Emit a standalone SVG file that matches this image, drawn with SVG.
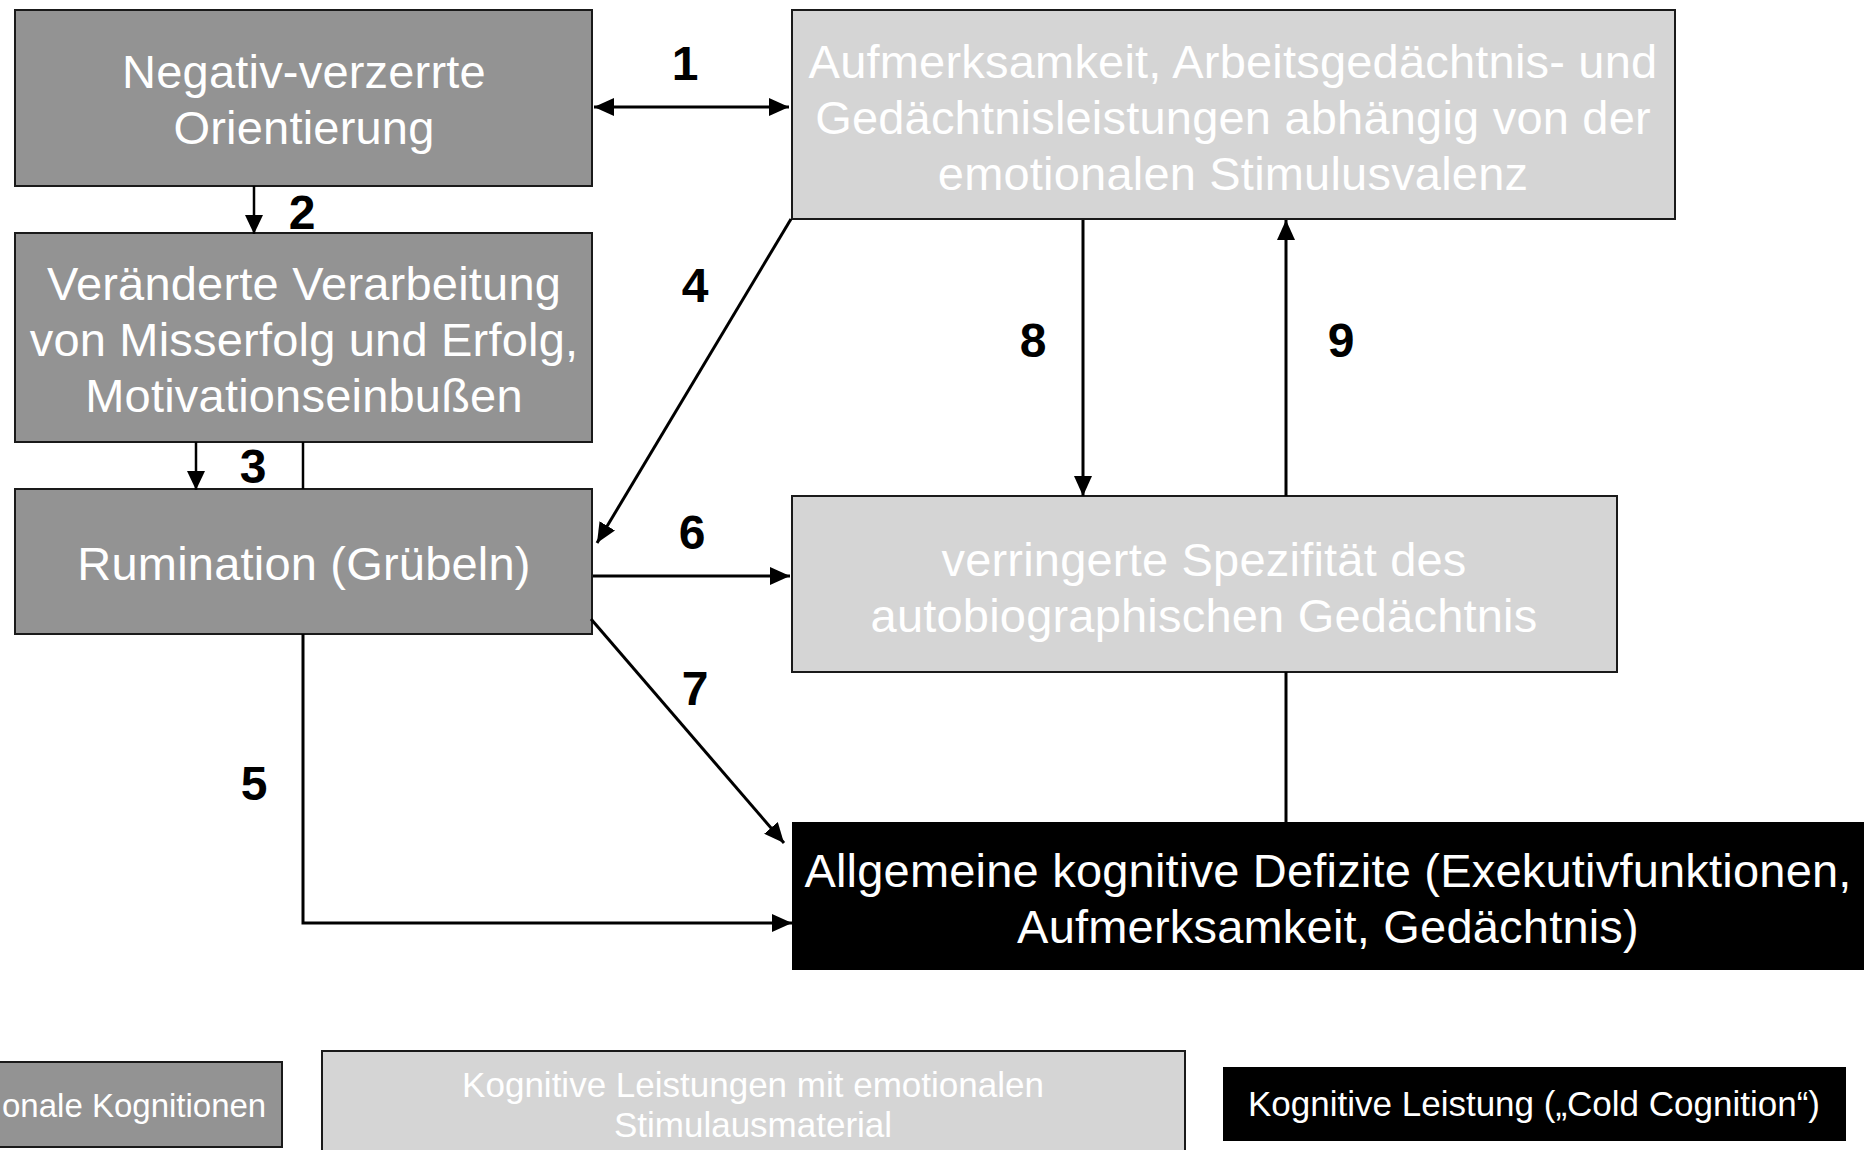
<svg xmlns="http://www.w3.org/2000/svg" width="1868" height="1150" viewBox="0 0 1868 1150">
  <style>
    .dark { fill: #939393; stroke: #1a1a1a; stroke-width: 2; }
    .light { fill: #d5d5d5; stroke: #1a1a1a; stroke-width: 2; }
    .black { fill: #000000; }
    .t { font-family: "Liberation Sans", Arial, sans-serif; font-size: 47px; letter-spacing: 0.2px; fill: #ffffff; text-anchor: middle; }
    .lt { font-family: "Liberation Sans", Arial, sans-serif; font-size: 35px; fill: #ffffff; text-anchor: middle; }
    .num { font-family: "Liberation Sans", Arial, sans-serif; font-size: 48px; font-weight: bold; fill: #000000; text-anchor: middle; }
    .c { fill: none; stroke: #000000; stroke-width: 3; }
    .cs { fill: none; stroke: #000000; stroke-width: 2.5; }
  </style>
  <defs>
    <marker id="ah" markerUnits="userSpaceOnUse" markerWidth="20" markerHeight="18" refX="20" refY="9" orient="auto-start-reverse">
      <path d="M0,0 L20,9 L0,18 z" fill="#000000"/>
    </marker>
    <marker id="ahs" markerUnits="userSpaceOnUse" markerWidth="19" markerHeight="18" refX="19" refY="9" orient="auto">
      <path d="M0,0 L19,9 L0,18 z" fill="#000000"/>
    </marker>
  </defs>
  <rect x="0" y="0" width="1868" height="1150" fill="#ffffff"/>

  <g id="node-negativ">
    <rect class="dark" x="15" y="10" width="577" height="176"/>
    <text class="t" x="304" y="88">Negativ-verzerrte</text>
    <text class="t" x="304" y="144">Orientierung</text>
  </g>
  <g id="node-verarbeitung">
    <rect class="dark" x="15" y="233" width="577" height="209"/>
    <text class="t" x="304" y="300">Veränderte Verarbeitung</text>
    <text class="t" x="304" y="356">von Misserfolg und Erfolg,</text>
    <text class="t" x="304" y="412">Motivationseinbußen</text>
  </g>
  <g id="node-rumination">
    <rect class="dark" x="15" y="489" width="577" height="145"/>
    <text class="t" x="304" y="580">Rumination (Grübeln)</text>
  </g>
  <g id="node-aufmerksamkeit">
    <rect class="light" x="792" y="10" width="883" height="209"/>
    <text class="t" x="1233" y="78">Aufmerksamkeit, Arbeitsgedächtnis- und</text>
    <text class="t" x="1233" y="134">Gedächtnisleistungen abhängig von der</text>
    <text class="t" x="1233" y="190">emotionalen Stimulusvalenz</text>
  </g>
  <g id="node-spezifitaet">
    <rect class="light" x="792" y="496" width="825" height="176"/>
    <text class="t" x="1204" y="576">verringerte Spezifität des</text>
    <text class="t" x="1204" y="632">autobiographischen Gedächtnis</text>
  </g>
  <g id="node-defizite">
    <rect class="black" x="792" y="822" width="1072" height="148"/>
    <text class="t" x="1328" y="887">Allgemeine kognitive Defizite (Exekutivfunktionen,</text>
    <text class="t" x="1328" y="943">Aufmerksamkeit, Gedächtnis)</text>
  </g>

  <g id="connectors">
    <line class="c" x1="594" y1="107" x2="789" y2="107" marker-start="url(#ah)" marker-end="url(#ah)"/>
    <line class="cs" x1="254" y1="186" x2="254" y2="234" marker-end="url(#ahs)"/>
    <line class="cs" x1="196" y1="442" x2="196" y2="490" marker-end="url(#ahs)"/>
    <line class="cs" x1="303" y1="442" x2="303" y2="489"/>
    <line class="c" x1="791" y1="219" x2="597" y2="543" marker-end="url(#ah)"/>
    <polyline class="c" points="303,634 303,923 792,923" marker-end="url(#ah)"/>
    <line class="c" x1="593" y1="576" x2="790" y2="576" marker-end="url(#ah)"/>
    <line class="c" x1="591" y1="619" x2="784" y2="843" marker-end="url(#ah)"/>
    <line class="c" x1="1083" y1="220" x2="1083" y2="496" marker-end="url(#ah)"/>
    <line class="c" x1="1286" y1="496" x2="1286" y2="220" marker-end="url(#ah)"/>
    <line class="c" x1="1286" y1="672" x2="1286" y2="822"/>
  </g>

  <g id="labels">
    <text class="num" x="685" y="80">1</text>
    <text class="num" x="302" y="229">2</text>
    <text class="num" x="253" y="483">3</text>
    <text class="num" x="695" y="302">4</text>
    <text class="num" x="254" y="800">5</text>
    <text class="num" x="692" y="549">6</text>
    <text class="num" x="695" y="705">7</text>
    <text class="num" x="1033" y="357">8</text>
    <text class="num" x="1341" y="357">9</text>
  </g>

  <g id="legend-emotional">
    <rect class="dark" x="-20" y="1062" width="302" height="85"/>
    <text class="lt" x="2" y="1117" style="text-anchor:start;font-size:33px">onale Kognitionen</text>
  </g>
  <g id="legend-stimulus">
    <rect class="light" x="322" y="1051" width="863" height="105"/>
    <text class="lt" x="753" y="1097">Kognitive Leistungen mit emotionalen</text>
    <text class="lt" x="753" y="1137">Stimulausmaterial</text>
  </g>
  <g id="legend-cold">
    <rect class="black" x="1223" y="1067" width="623" height="74"/>
    <text class="lt" x="1534" y="1116">Kognitive Leistung („Cold Cognition“)</text>
  </g>
</svg>
